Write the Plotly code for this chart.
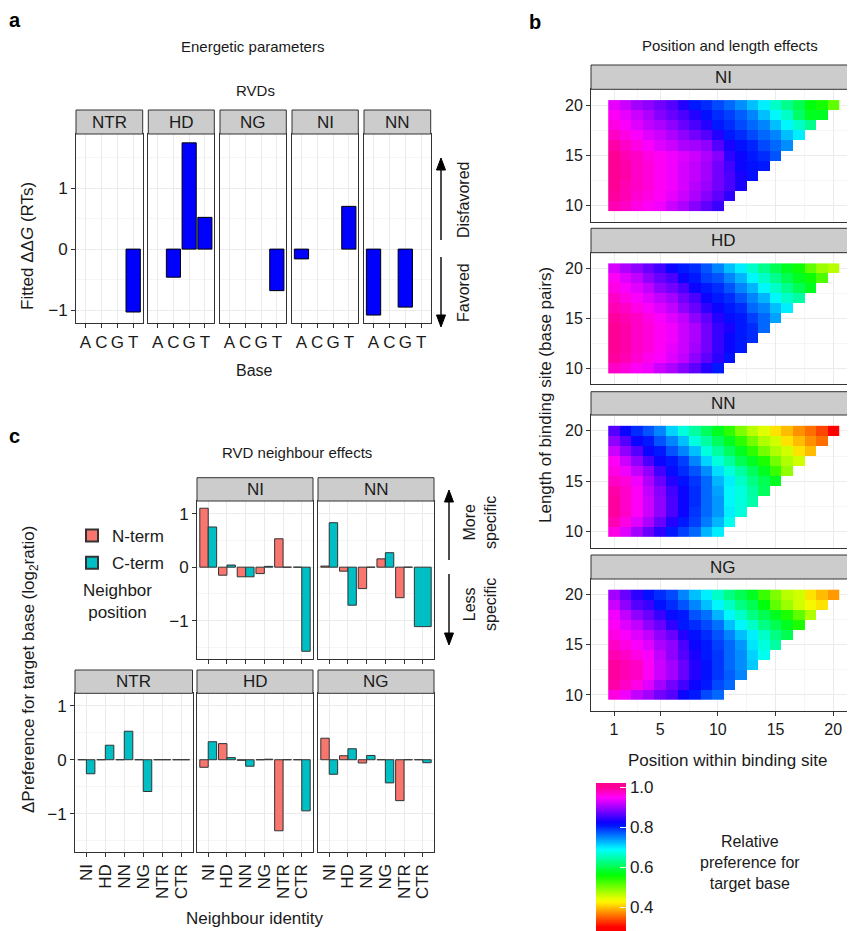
import colorsys
import plotly.graph_objects as go

W, H = 855, 931          # reference picture size
OX, OY = 8, 8            # page body margin in the browser
FW, FH = W - OX, H - OY  # figure size so that it ends at the window edge

# ---------------- data: panel a ----------------
bases = ["A", "C", "G", "T"]
rvd_a = ["NTR", "HD", "NG", "NI", "NN"]
ddg_NTR = [None, None, None, -1.03]
ddg_HD = [None, -0.46, 1.74, 0.52]
ddg_NG = [None, None, None, -0.68]
ddg_NI = [-0.16, None, None, 0.70]
ddg_NN = [-1.08, None, -0.95, None]
ddg_sets = [ddg_NTR, ddg_HD, ddg_NG, ddg_NI, ddg_NN]

# ---------------- data: panel c ----------------
neighbours = ["NI", "HD", "NN", "NG", "NTR", "CTR"]
nterm_NI = [1.10, -0.15, -0.18, -0.12, 0.53, 0.0]
cterm_NI = [0.75, 0.04, -0.18, 0.015, 0.0, -1.57]
nterm_NN = [0.02, -0.075, -0.40, 0.155, -0.57, None]
cterm_NN = [0.83, -0.71, 0.0, 0.27, 0.0, -1.11]
nterm_NTR = [0.0, 0.0, 0.0, 0.0, 0.0, 0.0]
cterm_NTR = [-0.26, 0.27, 0.53, -0.59, 0.0, 0.0]
nterm_HD = [-0.14, 0.30, -0.01, 0.0, -1.32, 0.0]
cterm_HD = [0.335, 0.04, -0.12, 0.01, 0.0, -0.95]
nterm_NG = [0.40, 0.075, -0.06, 0.0, -0.76, 0.0]
cterm_NG = [-0.27, 0.205, 0.08, -0.43, 0.0, -0.055]

# ---------------- data: panel b (rows = binding-site length 10..20) ----------------
positions = list(range(1, 21))
lengths = list(range(10, 21))
pref_NI = [
    [0.985, 0.975, 0.96, 0.95, 0.94, 0.92, 0.905, 0.885, 0.865, 0.845],
    [0.995, 0.985, 0.97, 0.96, 0.95, 0.935, 0.92, 0.905, 0.885, 0.865, 0.84],
    [1.0, 0.985, 0.975, 0.965, 0.95, 0.94, 0.925, 0.91, 0.895, 0.875, 0.855, 0.83],
    [1.0, 0.99, 0.975, 0.965, 0.95, 0.94, 0.925, 0.915, 0.9, 0.875, 0.855, 0.83, 0.81],
    [1.0, 0.99, 0.975, 0.965, 0.95, 0.94, 0.925, 0.915, 0.9, 0.875, 0.85, 0.82, 0.81, 0.805],
    [1.0, 0.985, 0.975, 0.96, 0.95, 0.94, 0.93, 0.92, 0.905, 0.885, 0.84, 0.82, 0.805, 0.795, 0.775],
    [0.99, 0.975, 0.96, 0.945, 0.93, 0.92, 0.905, 0.9, 0.89, 0.86, 0.83, 0.81, 0.80, 0.78, 0.765, 0.745],
    [0.975, 0.96, 0.945, 0.93, 0.92, 0.905, 0.89, 0.875, 0.86, 0.835, 0.805, 0.795, 0.78, 0.765, 0.75, 0.72, 0.695],
    [0.96, 0.945, 0.93, 0.915, 0.905, 0.89, 0.87, 0.855, 0.835, 0.805, 0.795, 0.78, 0.765, 0.75, 0.72, 0.69, 0.66, 0.63],
    [0.95, 0.935, 0.92, 0.905, 0.885, 0.87, 0.855, 0.835, 0.81, 0.795, 0.785, 0.77, 0.75, 0.72, 0.69, 0.66, 0.61, 0.575, 0.575],
    [0.935, 0.92, 0.90, 0.89, 0.875, 0.86, 0.835, 0.805, 0.795, 0.78, 0.765, 0.745, 0.72, 0.695, 0.66, 0.63, 0.60, 0.565, 0.55, 0.51],
]
pref_HD = [
    [0.975, 0.965, 0.95, 0.94, 0.92, 0.905, 0.885, 0.865, 0.835, 0.805],
    [0.995, 0.985, 0.97, 0.955, 0.945, 0.93, 0.915, 0.89, 0.865, 0.84, 0.81],
    [1.0, 0.99, 0.975, 0.965, 0.95, 0.935, 0.92, 0.9, 0.875, 0.845, 0.82, 0.805],
    [1.0, 0.99, 0.975, 0.965, 0.95, 0.94, 0.92, 0.905, 0.875, 0.845, 0.82, 0.805, 0.795],
    [1.0, 0.99, 0.975, 0.965, 0.95, 0.94, 0.92, 0.905, 0.875, 0.845, 0.83, 0.805, 0.795, 0.765],
    [0.995, 0.985, 0.975, 0.96, 0.945, 0.93, 0.915, 0.89, 0.865, 0.835, 0.815, 0.805, 0.785, 0.765, 0.735],
    [0.985, 0.975, 0.96, 0.945, 0.93, 0.915, 0.89, 0.87, 0.84, 0.82, 0.805, 0.795, 0.765, 0.75, 0.72, 0.695],
    [0.975, 0.96, 0.945, 0.93, 0.915, 0.9, 0.875, 0.855, 0.82, 0.805, 0.795, 0.775, 0.75, 0.725, 0.69, 0.66, 0.64],
    [0.96, 0.945, 0.93, 0.915, 0.89, 0.875, 0.855, 0.82, 0.805, 0.795, 0.775, 0.75, 0.725, 0.69, 0.66, 0.63, 0.60, 0.575],
    [0.95, 0.93, 0.915, 0.89, 0.87, 0.855, 0.82, 0.805, 0.785, 0.775, 0.75, 0.725, 0.69, 0.66, 0.63, 0.60, 0.575, 0.555, 0.52],
    [0.925, 0.905, 0.89, 0.87, 0.85, 0.82, 0.805, 0.795, 0.775, 0.75, 0.72, 0.695, 0.66, 0.63, 0.60, 0.575, 0.555, 0.51, 0.48, 0.465],
]
pref_NN = [
    [0.96, 0.93, 0.9, 0.87, 0.84, 0.805, 0.785, 0.765, 0.725, 0.695],
    [0.985, 0.96, 0.93, 0.905, 0.87, 0.835, 0.805, 0.785, 0.755, 0.725, 0.68],
    [0.995, 0.975, 0.95, 0.92, 0.89, 0.855, 0.82, 0.79, 0.765, 0.74, 0.695, 0.67],
    [0.995, 0.975, 0.95, 0.92, 0.89, 0.855, 0.82, 0.795, 0.765, 0.74, 0.69, 0.67, 0.645],
    [0.99, 0.975, 0.95, 0.915, 0.885, 0.85, 0.82, 0.795, 0.765, 0.735, 0.69, 0.67, 0.64, 0.605],
    [0.975, 0.965, 0.94, 0.905, 0.87, 0.835, 0.81, 0.79, 0.765, 0.725, 0.695, 0.66, 0.625, 0.60, 0.575],
    [0.96, 0.94, 0.915, 0.89, 0.85, 0.815, 0.795, 0.775, 0.745, 0.705, 0.67, 0.64, 0.605, 0.575, 0.53, 0.485],
    [0.95, 0.92, 0.89, 0.855, 0.82, 0.805, 0.785, 0.75, 0.71, 0.67, 0.64, 0.60, 0.575, 0.545, 0.50, 0.47, 0.453],
    [0.92, 0.89, 0.86, 0.82, 0.805, 0.775, 0.75, 0.72, 0.67, 0.64, 0.605, 0.575, 0.535, 0.50, 0.47, 0.453, 0.415, 0.395],
    [0.89, 0.86, 0.82, 0.805, 0.775, 0.75, 0.72, 0.67, 0.64, 0.605, 0.575, 0.535, 0.50, 0.47, 0.453, 0.415, 0.395, 0.373, 0.356],
    [0.86, 0.82, 0.795, 0.775, 0.75, 0.71, 0.67, 0.64, 0.605, 0.575, 0.535, 0.495, 0.465, 0.445, 0.415, 0.395, 0.373, 0.356, 0.335, 0.30],
]
pref_NG = [
    [0.96, 0.94, 0.915, 0.9, 0.875, 0.86, 0.82, 0.805, 0.78, 0.765],
    [0.99, 0.975, 0.96, 0.93, 0.9, 0.875, 0.85, 0.82, 0.805, 0.78, 0.765],
    [0.995, 0.985, 0.975, 0.95, 0.92, 0.9, 0.87, 0.835, 0.81, 0.79, 0.77, 0.75],
    [0.995, 0.985, 0.975, 0.95, 0.92, 0.9, 0.87, 0.835, 0.81, 0.79, 0.765, 0.745, 0.715],
    [0.985, 0.975, 0.96, 0.945, 0.915, 0.89, 0.86, 0.83, 0.805, 0.79, 0.765, 0.745, 0.71, 0.68],
    [0.975, 0.96, 0.945, 0.93, 0.905, 0.89, 0.855, 0.82, 0.805, 0.785, 0.765, 0.74, 0.70, 0.67, 0.64],
    [0.96, 0.945, 0.93, 0.915, 0.89, 0.87, 0.835, 0.81, 0.795, 0.775, 0.75, 0.72, 0.695, 0.66, 0.625, 0.60],
    [0.95, 0.93, 0.915, 0.89, 0.87, 0.84, 0.805, 0.795, 0.78, 0.76, 0.72, 0.69, 0.66, 0.625, 0.60, 0.575, 0.545],
    [0.94, 0.915, 0.89, 0.87, 0.845, 0.815, 0.805, 0.775, 0.76, 0.725, 0.69, 0.66, 0.625, 0.60, 0.575, 0.545, 0.51, 0.47],
    [0.92, 0.89, 0.86, 0.845, 0.81, 0.795, 0.775, 0.75, 0.72, 0.69, 0.66, 0.625, 0.60, 0.565, 0.51, 0.48, 0.453, 0.43, 0.415],
    [0.90, 0.87, 0.84, 0.81, 0.795, 0.78, 0.75, 0.72, 0.695, 0.66, 0.625, 0.60, 0.575, 0.53, 0.495, 0.465, 0.453, 0.415, 0.395, 0.378],
]
rvd_b = ["NI", "HD", "NN", "NG"]
pref_sets = [pref_NI, pref_HD, pref_NN, pref_NG]

# ---------------- helpers ----------------
FONT = "Liberation Sans, Arial, Helvetica, sans-serif"
TXT = "#1a1a1a"
GRID = "#EBEBEB"
MINOR = "#F5F5F5"


def fx(p):
    return (p - OX) / FW


def fy(p):
    return 1 - (p - OY) / FH


fig = go.Figure()
axes_layout = {}
shapes = []
annotations = []
counter = [0]


def add_axes(x0, x1, y0, y1, xa, ya):
    counter[0] += 1
    s = "" if counter[0] == 1 else str(counter[0])
    axes_layout["xaxis" + s] = dict(domain=[fx(x0), min(1.0, fx(x1))], anchor="y" + s, **xa)
    axes_layout["yaxis" + s] = dict(domain=[fy(y1), fy(y0)], anchor="x" + s, **ya)
    return "x" + s, "y" + s


def strip(x0, x1, y0, y1, label):
    shapes.append(dict(type="rect", xref="paper", yref="paper", x0=fx(x0), x1=fx(x1),
                       y0=fy(y1), y1=fy(y0), fillcolor="#CCCCCC",
                       line=dict(color="#333333", width=1), layer="above"))
    annotations.append(dict(x=fx((x0 + min(x1, W)) / 2), y=fy((y0 + y1) / 2), xref="paper", yref="paper",
                            text=label, showarrow=False, xanchor="center", yanchor="middle",
                            font=dict(size=17, color=TXT)))


def text(x, y, s, size=15, angle=0, bold=False, xanchor="center", yanchor="middle", align="center"):
    if bold:
        s = "<b>" + s + "</b>"
    annotations.append(dict(x=fx(x), y=fy(y), xref="paper", yref="paper", text=s, showarrow=False,
                            textangle=angle, font=dict(size=size, color="#000000" if bold else TXT),
                            xanchor=xanchor, yanchor=yanchor, align=align))


def arrow(x, y_head, y_tail):
    d = 1 if y_tail > y_head else -1
    hl, hw = 12, 4.5
    shapes.append(dict(type="line", xref="paper", yref="paper", x0=fx(x), x1=fx(x),
                       y0=fy(y_tail), y1=fy(y_head + d * hl * 0.6),
                       line=dict(color="#000000", width=1.4)))
    path = "M %f %f L %f %f L %f %f Z" % (fx(x), fy(y_head), fx(x - hw), fy(y_head + d * hl),
                                          fx(x + hw), fy(y_head + d * hl))
    shapes.append(dict(type="path", xref="paper", yref="paper", path=path, fillcolor="#000000",
                       line=dict(color="#000000", width=1)))


def base_axis():
    return dict(showline=True, mirror=True, linecolor="#333333", linewidth=1, zeroline=False,
                ticks="outside", ticklen=4, tickwidth=1, tickcolor="#333333",
                tickfont=dict(size=16, color=TXT, family=FONT), showgrid=True, gridcolor=GRID,
                gridwidth=1, fixedrange=True)


def dodge(own, other, side):
    offs, wids = [], []
    for o, p in zip(own, other):
        if p is None:
            offs.append(-0.45)
            wids.append(0.9)
        else:
            offs.append(-0.45 if side == 0 else 0.0)
            wids.append(0.45)
    return offs, wids


# ---------------- panel a ----------------
a_cols = [(76, 142.7), (148.3, 214.3), (220, 286.3), (292, 358.3), (364, 430.7)]
for i, (rvd, vals) in enumerate(zip(rvd_a, ddg_sets)):
    x0, x1 = a_cols[i]
    xa = base_axis()
    xa.update(type="category", categoryorder="array", categoryarray=bases, range=[-0.6, 3.6],
              tickmode="array", tickvals=bases, ticktext=bases,
              tickfont=dict(size=17, color=TXT, family=FONT))
    ya = base_axis()
    ya.update(range=[-1.21, 1.885], tickvals=[-1, 0, 1], ticktext=["\u22121", "0", "1"],
              showticklabels=(i == 0), ticks="outside" if i == 0 else "",
              tickfont=dict(size=17, color=TXT, family=FONT),
              minor=dict(tickvals=[-0.5, 0.5, 1.5], showgrid=True, gridcolor=MINOR, ticks=""))
    xr, yr = add_axes(x0, x1, 134, 323, xa, ya)
    fig.add_trace(go.Bar(x=bases, y=vals, xaxis=xr, yaxis=yr, width=0.9, offset=-0.45,
                         marker=dict(color="#0000FF", line=dict(color="#000000", width=1)),
                         showlegend=False, hoverinfo="skip"))
    strip(x0, x1, 110, 134, rvd)

text(15, 20, "a", size=20, bold=True)
text(253, 47, "Energetic parameters", size=15)
text(256, 90, "RVDs", size=15)
text(254, 370, "Base", size=16)
text(27, 246, "Fitted \u0394\u0394<i>G</i> (RTs)", size=17, angle=-90)
arrow(441, 158, 240)
arrow(441, 327, 257)
text(463, 200, "Disfavored", size=16, angle=-90)
text(463, 293, "Favored", size=16, angle=-90)

# ---------------- panel b ----------------
lo, hi, cmin, cmax = 0.30, 1.00, 0.28, 1.02
stops = [[0.0, "rgb(255,0,0)"]]
nst = 40
for k in range(nst + 1):
    hue = 325.0 * k / nst
    r, g, b = colorsys.hsv_to_rgb(hue / 360.0, 1, 1)
    v = lo + (hi - lo) * k / nst
    stops.append([(v - cmin) / (cmax - cmin), "rgb(%d,%d,%d)" % (round(r * 255), round(g * 255), round(b * 255))])
stops.append([1.0, stops[-1][1]])

b_x0, b_x1 = 591, 855
px_per = 11.54
xr_b = [1 - (614 - b_x0) / px_per, 1 + (b_x1 - 614) / px_per]
b_rows = [(89.3, 221.7, 65, 89.3), (252.7, 384, 228.3, 252.7), (415, 547.7, 391.7, 415), (579, 710.7, 555, 579)]
for i, (rvd, rows) in enumerate(zip(rvd_b, pref_sets)):
    py0, py1, sy0, sy1 = b_rows[i]
    z = [row + [None] * (len(positions) - len(row)) for row in rows]
    xa = base_axis()
    xa.update(range=xr_b, tickvals=[1, 5, 10, 15, 20], showticklabels=(i == 3),
              ticks="outside" if i == 3 else "",
              minor=dict(tickvals=[3, 7.5, 12.5, 17.5], showgrid=True, gridcolor=MINOR, ticks=""))
    ya = base_axis()
    ya.update(range=[8.43, 21.57], tickvals=[10, 15, 20],
              minor=dict(tickvals=[12.5, 17.5], showgrid=True, gridcolor=MINOR, ticks=""))
    xr, yr = add_axes(b_x0, b_x1, py0, py1, xa, ya)
    fig.add_trace(go.Heatmap(x=positions, y=lengths, z=z, xaxis=xr, yaxis=yr, coloraxis="coloraxis",
                             hoverongaps=False, xgap=0, ygap=0))
    strip(b_x0, b_x1 + 5, sy0, sy1, rvd)

text(535, 22, "b", size=20, bold=True)
text(730, 45, "Position and length effects", size=15)
text(545, 395, "Length of binding site (base pairs)", size=17, angle=-90)
text(727, 760, "Position within binding site", size=17)
text(750, 862, "Relative<br>preference for<br>target base", size=16)

# ---------------- panel c ----------------
c_cols = [(75, 192.5), (197, 313), (318, 434)]
c_facets = [
    ("NI", 1, 0, nterm_NI, cterm_NI),
    ("NN", 2, 0, nterm_NN, cterm_NN),
    ("NTR", 0, 1, nterm_NTR, cterm_NTR),
    ("HD", 1, 1, nterm_HD, cterm_HD),
    ("NG", 2, 1, nterm_NG, cterm_NG),
]
c_rowy = [(501, 659.3, 477.7, 501), (693.3, 852.3, 670, 693.3)]
first = True
for name, col, row, nt, ct in c_facets:
    x0, x1 = c_cols[col]
    py0, py1, sy0, sy1 = c_rowy[row]
    xa = base_axis()
    xa.update(type="category", categoryorder="array", categoryarray=neighbours, range=[-0.6, 5.6],
              tickmode="array", tickvals=neighbours, ticktext=neighbours,
              showticklabels=(row == 1), tickangle=-90, tickfont=dict(size=17, color=TXT, family=FONT))
    ya = base_axis()
    leftmost = (col == 1 and row == 0) or (col == 0 and row == 1)
    ya.update(range=[-1.72, 1.235], tickvals=[-1, 0, 1], ticktext=["\u22121", "0", "1"],
              showticklabels=leftmost, ticks="outside" if leftmost else "",
              tickfont=dict(size=17, color=TXT, family=FONT),
              minor=dict(tickvals=[-1.5, -0.5, 0.5], showgrid=True, gridcolor=MINOR, ticks=""))
    xr, yr = add_axes(x0, x1, py0, py1, xa, ya)
    no, nw = dodge(nt, ct, 0)
    co, cw = dodge(ct, nt, 1)
    fig.add_trace(go.Bar(x=neighbours, y=nt, xaxis=xr, yaxis=yr, name="N-term", legendgroup="N",
                         offset=no, width=nw,
                         showlegend=first, marker=dict(color="#F8766D", line=dict(color="#333333", width=1)),
                         hoverinfo="skip"))
    fig.add_trace(go.Bar(x=neighbours, y=ct, xaxis=xr, yaxis=yr, name="C-term", legendgroup="C",
                         offset=co, width=cw,
                         showlegend=first, marker=dict(color="#00BFC4", line=dict(color="#333333", width=1)),
                         hoverinfo="skip"))
    first = False
    strip(x0, x1, sy0, sy1, name)

text(14, 436, "c", size=20, bold=True)
text(297, 452, "RVD neighbour effects", size=15)
text(30, 670, "\u0394Preference for target base (log<sub>2</sub>ratio)", size=17, angle=-90)
text(255, 918, "Neighbour identity", size=17)
text(118, 601, "Neighbor<br>position", size=17)
arrow(449, 490, 560)
arrow(449, 645, 574)
text(480, 523, "More<br>specific", size=16, angle=-90)
text(480, 605, "Less<br>specific", size=16, angle=-90)

fig.update_layout(
    width=FW, height=FH, autosize=False,
    margin=dict(l=0, r=0, t=0, b=0),
    paper_bgcolor="white", plot_bgcolor="white",
    font=dict(family=FONT, color=TXT, size=15),
    barmode="overlay",
    shapes=shapes, annotations=annotations,
    legend=dict(x=fx(72), y=fy(518), xanchor="left", yanchor="top", font=dict(size=17, color=TXT),
                bgcolor="rgba(0,0,0,0)", tracegroupgap=2, itemsizing="constant"),
    coloraxis=dict(cmin=cmin, cmax=cmax, colorscale=stops,
                   colorbar=dict(x=fx(596), xanchor="left", y=fy(783), yanchor="top",
                                 len=(931 - 783) / FH, lenmode="fraction", thickness=30, thicknessmode="pixels",
                                 outlinewidth=0, xpad=0, ypad=0,
                                 tickvals=[0.4, 0.6, 0.8, 1.0], ticktext=["0.4", "0.6", "0.8", "1.0"],
                                 ticks="inside", ticklen=6, tickcolor="white",
                                 tickfont=dict(size=17, color=TXT, family=FONT))),
    **axes_layout,
)

fig.write_html("out.html")
